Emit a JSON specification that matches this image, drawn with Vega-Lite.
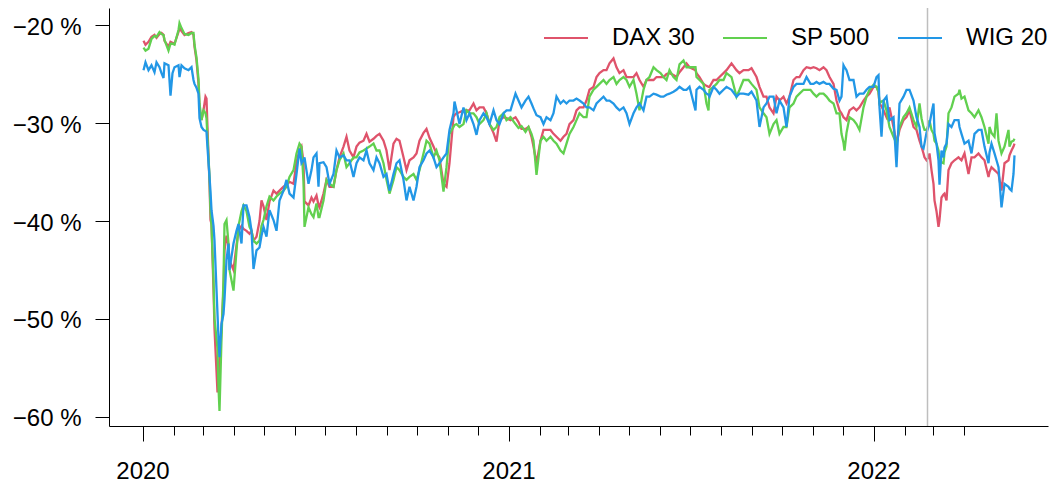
{
"$schema": "https://vega.github.io/schema/vega-lite/v6.json",
"width": 939, "height": 418,
"autosize": {"type": "none"},
"padding": {"left": 109, "top": 8, "right": 3, "bottom": 57},
"background": "white",
"config": {"view": {"stroke": null}, "font": "Liberation Sans"},
"resolve": {"axis": {"x": "independent"}},
"layer": [
{"data": {"values": [
{"d":"2020-01-02","DAX 30":-21.6,"SP 500":-22.3,"WIG 20":-24.6},
{"d":"2020-01-04","DAX 30":-22.0,"SP 500":-22.6,"WIG 20":-23.8},
{"d":"2020-01-07","DAX 30":-21.7,"SP 500":-22.4,"WIG 20":-24.6},
{"d":"2020-01-10","DAX 30":-21.2,"SP 500":-21.4,"WIG 20":-24.1},
{"d":"2020-01-13","DAX 30":-21.0,"SP 500":-21.1,"WIG 20":-24.8},
{"d":"2020-01-15","DAX 30":-21.3,"SP 500":-21.2,"WIG 20":-23.8},
{"d":"2020-01-18","DAX 30":-20.9,"SP 500":-20.7,"WIG 20":-24.3},
{"d":"2020-01-20","DAX 30":-20.8,"SP 500":-20.9,"WIG 20":-24.9},
{"d":"2020-01-22","DAX 30":-21.0,"SP 500":-21.0,"WIG 20":-25.4},
{"d":"2020-01-23","DAX 30":-21.6,"SP 500":-21.5,"WIG 20":-23.9},
{"d":"2020-01-27","DAX 30":-22.2,"SP 500":-22.6,"WIG 20":-24.1},
{"d":"2020-01-29","DAX 30":-21.7,"SP 500":-21.9,"WIG 20":-27.2},
{"d":"2020-01-31","DAX 30":-21.8,"SP 500":-21.9,"WIG 20":-24.9},
{"d":"2020-02-02","DAX 30":-21.9,"SP 500":-22.0,"WIG 20":-24.3},
{"d":"2020-02-06","DAX 30":-20.7,"SP 500":-20.5,"WIG 20":-24.1},
{"d":"2020-02-07","DAX 30":-20.3,"SP 500":-19.8,"WIG 20":-25.3},
{"d":"2020-02-09","DAX 30":-20.6,"SP 500":-20.3,"WIG 20":-24.1},
{"d":"2020-02-12","DAX 30":-21.0,"SP 500":-20.9,"WIG 20":-24.4},
{"d":"2020-02-16","DAX 30":-20.8,"SP 500":-21.0,"WIG 20":-24.6},
{"d":"2020-02-19","DAX 30":-20.7,"SP 500":-20.8,"WIG 20":-24.3},
{"d":"2020-02-21","DAX 30":-21.0,"SP 500":-20.8,"WIG 20":-25.6},
{"d":"2020-02-22","DAX 30":-22.2,"SP 500":-22.0,"WIG 20":-26.0},
{"d":"2020-02-24","DAX 30":-23.6,"SP 500":-23.3,"WIG 20":-26.4},
{"d":"2020-02-26","DAX 30":-26.0,"SP 500":-25.5,"WIG 20":-27.0},
{"d":"2020-02-27","DAX 30":-28.4,"SP 500":-28.0,"WIG 20":-29.5},
{"d":"2020-02-29","DAX 30":-29.7,"SP 500":-29.7,"WIG 20":-30.4},
{"d":"2020-03-02","DAX 30":-28.7,"SP 500":-28.7,"WIG 20":-30.7},
{"d":"2020-03-04","DAX 30":-27.3,"SP 500":-29.0,"WIG 20":-30.8},
{"d":"2020-03-05","DAX 30":-27.5,"SP 500":-29.5,"WIG 20":-30.9},
{"d":"2020-03-06","DAX 30":-30.5,"SP 500":-31.5,"WIG 20":-32.5},
{"d":"2020-03-08","DAX 30":-36.2,"SP 500":-35.5,"WIG 20":-35.5},
{"d":"2020-03-09","DAX 30":-39.9,"SP 500":-39.0,"WIG 20":-37.0},
{"d":"2020-03-10","DAX 30":-40.3,"SP 500":-40.5,"WIG 20":-38.9},
{"d":"2020-03-12","DAX 30":-47.0,"SP 500":-46.0,"WIG 20":-40.5},
{"d":"2020-03-13","DAX 30":-51.0,"SP 500":-50.0,"WIG 20":-42.0},
{"d":"2020-03-16","DAX 30":-57.5,"SP 500":-53.0,"WIG 20":-49.5},
{"d":"2020-03-17","DAX 30":-56.0,"SP 500":-57.0,"WIG 20":-52.0},
{"d":"2020-03-18","DAX 30":-55.0,"SP 500":-59.4,"WIG 20":-53.9},
{"d":"2020-03-20","DAX 30":-51.0,"SP 500":-52.0,"WIG 20":-50.5},
{"d":"2020-03-22","DAX 30":-47.0,"SP 500":-46.0,"WIG 20":-49.5},
{"d":"2020-03-23","DAX 30":-43.0,"SP 500":-40.3,"WIG 20":-48.0},
{"d":"2020-03-25","DAX 30":-41.5,"SP 500":-39.9,"WIG 20":-44.0},
{"d":"2020-03-27","DAX 30":-42.5,"SP 500":-42.3,"WIG 20":-42.3},
{"d":"2020-03-28","DAX 30":-44.0,"SP 500":-45.0,"WIG 20":-45.0},
{"d":"2020-04-01","DAX 30":-45.0,"SP 500":-47.1,"WIG 20":-42.3},
{"d":"2020-04-04","DAX 30":-42.5,"SP 500":-43.0,"WIG 20":-41.0},
{"d":"2020-04-06","DAX 30":-41.0,"SP 500":-40.5,"WIG 20":-40.3},
{"d":"2020-04-09","DAX 30":-40.5,"SP 500":-39.0,"WIG 20":-42.3},
{"d":"2020-04-11","DAX 30":-40.8,"SP 500":-38.4,"WIG 20":-38.4},
{"d":"2020-04-14","DAX 30":-41.0,"SP 500":-39.0,"WIG 20":-38.4},
{"d":"2020-04-17","DAX 30":-41.3,"SP 500":-40.6,"WIG 20":-39.6},
{"d":"2020-04-19","DAX 30":-41.0,"SP 500":-41.0,"WIG 20":-41.0},
{"d":"2020-04-21","DAX 30":-42.0,"SP 500":-42.0,"WIG 20":-44.9},
{"d":"2020-04-24","DAX 30":-41.6,"SP 500":-42.3,"WIG 20":-43.0},
{"d":"2020-04-27","DAX 30":-40.0,"SP 500":-42.0,"WIG 20":-42.7},
{"d":"2020-04-29","DAX 30":-37.9,"SP 500":-40.5,"WIG 20":-41.5},
{"d":"2020-05-01","DAX 30":-38.5,"SP 500":-39.9,"WIG 20":-40.6},
{"d":"2020-05-04","DAX 30":-39.9,"SP 500":-38.5,"WIG 20":-41.6},
{"d":"2020-05-07","DAX 30":-38.0,"SP 500":-37.5,"WIG 20":-38.9},
{"d":"2020-05-11","DAX 30":-36.9,"SP 500":-37.9,"WIG 20":-39.9},
{"d":"2020-05-14","DAX 30":-37.2,"SP 500":-37.5,"WIG 20":-41.0},
{"d":"2020-05-17","DAX 30":-36.9,"SP 500":-37.2,"WIG 20":-37.9},
{"d":"2020-05-21","DAX 30":-36.5,"SP 500":-36.9,"WIG 20":-36.9},
{"d":"2020-05-24","DAX 30":-36.3,"SP 500":-36.5,"WIG 20":-35.8},
{"d":"2020-05-27","DAX 30":-36.0,"SP 500":-35.5,"WIG 20":-37.2},
{"d":"2020-05-31","DAX 30":-36.2,"SP 500":-34.8,"WIG 20":-37.6},
{"d":"2020-06-03","DAX 30":-34.0,"SP 500":-33.1,"WIG 20":-35.2},
{"d":"2020-06-06","DAX 30":-32.8,"SP 500":-32.1,"WIG 20":-32.6},
{"d":"2020-06-08","DAX 30":-32.4,"SP 500":-32.4,"WIG 20":-34.1},
{"d":"2020-06-10","DAX 30":-34.0,"SP 500":-36.0,"WIG 20":-33.8},
{"d":"2020-06-11","DAX 30":-38.0,"SP 500":-40.6,"WIG 20":-33.5},
{"d":"2020-06-15","DAX 30":-38.4,"SP 500":-38.6,"WIG 20":-36.2},
{"d":"2020-06-18","DAX 30":-37.6,"SP 500":-39.3,"WIG 20":-34.8},
{"d":"2020-06-20","DAX 30":-38.0,"SP 500":-39.6,"WIG 20":-33.5},
{"d":"2020-06-23","DAX 30":-37.4,"SP 500":-38.2,"WIG 20":-33.1},
{"d":"2020-06-25","DAX 30":-38.4,"SP 500":-39.6,"WIG 20":-36.5},
{"d":"2020-06-26","DAX 30":-38.6,"SP 500":-39.6,"WIG 20":-34.1},
{"d":"2020-06-30","DAX 30":-37.2,"SP 500":-37.9,"WIG 20":-34.0},
{"d":"2020-07-03","DAX 30":-35.8,"SP 500":-35.8,"WIG 20":-34.5},
{"d":"2020-07-06","DAX 30":-36.5,"SP 500":-36.2,"WIG 20":-36.2},
{"d":"2020-07-10","DAX 30":-36.5,"SP 500":-36.5,"WIG 20":-35.2},
{"d":"2020-07-13","DAX 30":-34.8,"SP 500":-34.8,"WIG 20":-32.8},
{"d":"2020-07-16","DAX 30":-33.5,"SP 500":-33.8,"WIG 20":-33.5},
{"d":"2020-07-20","DAX 30":-32.4,"SP 500":-33.1,"WIG 20":-33.3},
{"d":"2020-07-23","DAX 30":-31.4,"SP 500":-34.5,"WIG 20":-33.8},
{"d":"2020-07-26","DAX 30":-32.8,"SP 500":-34.1,"WIG 20":-33.8},
{"d":"2020-07-30","DAX 30":-33.5,"SP 500":-33.5,"WIG 20":-35.5},
{"d":"2020-08-02","DAX 30":-32.4,"SP 500":-33.5,"WIG 20":-34.1},
{"d":"2020-08-05","DAX 30":-32.0,"SP 500":-33.0,"WIG 20":-33.5},
{"d":"2020-08-09","DAX 30":-31.8,"SP 500":-32.8,"WIG 20":-33.8},
{"d":"2020-08-12","DAX 30":-31.1,"SP 500":-32.6,"WIG 20":-32.8},
{"d":"2020-08-15","DAX 30":-31.9,"SP 500":-32.4,"WIG 20":-34.1},
{"d":"2020-08-19","DAX 30":-31.6,"SP 500":-32.1,"WIG 20":-34.8},
{"d":"2020-08-22","DAX 30":-31.3,"SP 500":-32.8,"WIG 20":-33.5},
{"d":"2020-08-25","DAX 30":-31.1,"SP 500":-32.8,"WIG 20":-34.1},
{"d":"2020-08-29","DAX 30":-31.8,"SP 500":-34.1,"WIG 20":-35.5},
{"d":"2020-09-01","DAX 30":-32.8,"SP 500":-35.8,"WIG 20":-35.2},
{"d":"2020-09-04","DAX 30":-34.8,"SP 500":-37.2,"WIG 20":-36.9},
{"d":"2020-09-08","DAX 30":-32.1,"SP 500":-35.8,"WIG 20":-35.2},
{"d":"2020-09-11","DAX 30":-31.6,"SP 500":-34.5,"WIG 20":-34.1},
{"d":"2020-09-14","DAX 30":-31.8,"SP 500":-34.8,"WIG 20":-33.8},
{"d":"2020-09-18","DAX 30":-33.5,"SP 500":-35.5,"WIG 20":-35.8},
{"d":"2020-09-21","DAX 30":-34.8,"SP 500":-35.8,"WIG 20":-37.9},
{"d":"2020-09-24","DAX 30":-33.8,"SP 500":-35.5,"WIG 20":-36.5},
{"d":"2020-09-28","DAX 30":-33.5,"SP 500":-35.2,"WIG 20":-37.9},
{"d":"2020-10-01","DAX 30":-33.1,"SP 500":-35.8,"WIG 20":-36.5},
{"d":"2020-10-04","DAX 30":-31.8,"SP 500":-34.8,"WIG 20":-34.5},
{"d":"2020-10-08","DAX 30":-31.0,"SP 500":-33.1,"WIG 20":-33.8},
{"d":"2020-10-11","DAX 30":-30.6,"SP 500":-31.8,"WIG 20":-33.1},
{"d":"2020-10-14","DAX 30":-31.5,"SP 500":-32.1,"WIG 20":-32.8},
{"d":"2020-10-18","DAX 30":-32.4,"SP 500":-33.5,"WIG 20":-33.5},
{"d":"2020-10-21","DAX 30":-33.1,"SP 500":-32.8,"WIG 20":-34.5},
{"d":"2020-10-24","DAX 30":-33.5,"SP 500":-33.8,"WIG 20":-34.1},
{"d":"2020-10-28","DAX 30":-36.2,"SP 500":-37.0,"WIG 20":-33.5},
{"d":"2020-10-31","DAX 30":-36.5,"SP 500":-34.5,"WIG 20":-33.1},
{"d":"2020-11-03","DAX 30":-34.1,"SP 500":-31.1,"WIG 20":-30.7},
{"d":"2020-11-07","DAX 30":-29.4,"SP 500":-30.4,"WIG 20":-29.0},
{"d":"2020-11-08","DAX 30":-29.2,"SP 500":-30.2,"WIG 20":-27.8},
{"d":"2020-11-10","DAX 30":-29.0,"SP 500":-30.1,"WIG 20":-28.7},
{"d":"2020-11-13","DAX 30":-28.9,"SP 500":-30.4,"WIG 20":-30.1},
{"d":"2020-11-17","DAX 30":-28.7,"SP 500":-30.1,"WIG 20":-28.4},
{"d":"2020-11-20","DAX 30":-28.7,"SP 500":-28.7,"WIG 20":-29.7},
{"d":"2020-11-23","DAX 30":-28.7,"SP 500":-29.0,"WIG 20":-29.0},
{"d":"2020-11-27","DAX 30":-28.0,"SP 500":-29.0,"WIG 20":-30.1},
{"d":"2020-11-30","DAX 30":-28.7,"SP 500":-29.4,"WIG 20":-31.2},
{"d":"2020-12-03","DAX 30":-28.4,"SP 500":-30.1,"WIG 20":-29.7},
{"d":"2020-12-07","DAX 30":-28.4,"SP 500":-29.7,"WIG 20":-29.0},
{"d":"2020-12-10","DAX 30":-29.0,"SP 500":-29.0,"WIG 20":-29.4},
{"d":"2020-12-13","DAX 30":-30.1,"SP 500":-30.1,"WIG 20":-30.1},
{"d":"2020-12-17","DAX 30":-31.0,"SP 500":-30.7,"WIG 20":-28.7},
{"d":"2020-12-20","DAX 30":-31.9,"SP 500":-30.4,"WIG 20":-29.7},
{"d":"2020-12-23","DAX 30":-29.7,"SP 500":-29.4,"WIG 20":-30.1},
{"d":"2020-12-27","DAX 30":-29.4,"SP 500":-29.0,"WIG 20":-29.0},
{"d":"2020-12-30","DAX 30":-29.5,"SP 500":-29.7,"WIG 20":-28.7},
{"d":"2021-01-03","DAX 30":-29.7,"SP 500":-29.4,"WIG 20":-28.7},
{"d":"2021-01-08","DAX 30":-29.4,"SP 500":-30.1,"WIG 20":-27.0},
{"d":"2021-01-11","DAX 30":-29.9,"SP 500":-30.5,"WIG 20":-27.7},
{"d":"2021-01-14","DAX 30":-30.6,"SP 500":-30.3,"WIG 20":-28.4},
{"d":"2021-01-18","DAX 30":-30.6,"SP 500":-30.9,"WIG 20":-27.7},
{"d":"2021-01-21","DAX 30":-30.4,"SP 500":-30.4,"WIG 20":-27.3},
{"d":"2021-01-24","DAX 30":-31.4,"SP 500":-31.1,"WIG 20":-28.0},
{"d":"2021-01-26","DAX 30":-32.4,"SP 500":-31.8,"WIG 20":-28.5},
{"d":"2021-01-29","DAX 30":-34.1,"SP 500":-35.3,"WIG 20":-29.2},
{"d":"2021-02-02","DAX 30":-31.8,"SP 500":-31.8,"WIG 20":-29.4},
{"d":"2021-02-05","DAX 30":-30.7,"SP 500":-31.4,"WIG 20":-30.1},
{"d":"2021-02-08","DAX 30":-30.7,"SP 500":-31.8,"WIG 20":-29.4},
{"d":"2021-02-12","DAX 30":-30.7,"SP 500":-31.4,"WIG 20":-29.7},
{"d":"2021-02-15","DAX 30":-31.1,"SP 500":-31.8,"WIG 20":-29.0},
{"d":"2021-02-18","DAX 30":-31.4,"SP 500":-32.1,"WIG 20":-27.3},
{"d":"2021-02-22","DAX 30":-31.8,"SP 500":-32.8,"WIG 20":-28.0},
{"d":"2021-02-25","DAX 30":-31.4,"SP 500":-33.1,"WIG 20":-27.7},
{"d":"2021-02-28","DAX 30":-31.1,"SP 500":-32.1,"WIG 20":-28.0},
{"d":"2021-03-03","DAX 30":-30.1,"SP 500":-31.1,"WIG 20":-27.7},
{"d":"2021-03-07","DAX 30":-29.7,"SP 500":-30.4,"WIG 20":-27.7},
{"d":"2021-03-10","DAX 30":-28.7,"SP 500":-29.7,"WIG 20":-27.5},
{"d":"2021-03-13","DAX 30":-28.4,"SP 500":-29.0,"WIG 20":-27.7},
{"d":"2021-03-17","DAX 30":-28.4,"SP 500":-29.4,"WIG 20":-28.0},
{"d":"2021-03-20","DAX 30":-27.7,"SP 500":-29.4,"WIG 20":-28.4},
{"d":"2021-03-23","DAX 30":-26.6,"SP 500":-27.3,"WIG 20":-28.4},
{"d":"2021-03-27","DAX 30":-26.3,"SP 500":-26.6,"WIG 20":-28.7},
{"d":"2021-03-30","DAX 30":-25.3,"SP 500":-26.3,"WIG 20":-28.0},
{"d":"2021-04-02","DAX 30":-24.9,"SP 500":-26.0,"WIG 20":-27.7},
{"d":"2021-04-06","DAX 30":-24.6,"SP 500":-25.6,"WIG 20":-27.3},
{"d":"2021-04-09","DAX 30":-24.6,"SP 500":-26.0,"WIG 20":-27.7},
{"d":"2021-04-12","DAX 30":-23.9,"SP 500":-25.6,"WIG 20":-27.7},
{"d":"2021-04-16","DAX 30":-23.4,"SP 500":-25.3,"WIG 20":-28.0},
{"d":"2021-04-19","DAX 30":-24.3,"SP 500":-26.0,"WIG 20":-28.4},
{"d":"2021-04-22","DAX 30":-24.9,"SP 500":-25.6,"WIG 20":-28.7},
{"d":"2021-04-26","DAX 30":-24.6,"SP 500":-25.3,"WIG 20":-28.4},
{"d":"2021-04-29","DAX 30":-25.3,"SP 500":-25.6,"WIG 20":-29.0},
{"d":"2021-05-02","DAX 30":-25.3,"SP 500":-26.3,"WIG 20":-30.1},
{"d":"2021-05-06","DAX 30":-25.3,"SP 500":-25.6,"WIG 20":-29.0},
{"d":"2021-05-09","DAX 30":-24.9,"SP 500":-27.0,"WIG 20":-28.4},
{"d":"2021-05-12","DAX 30":-25.6,"SP 500":-28.7,"WIG 20":-28.0},
{"d":"2021-05-16","DAX 30":-26.3,"SP 500":-26.6,"WIG 20":-28.7},
{"d":"2021-05-19","DAX 30":-25.6,"SP 500":-25.6,"WIG 20":-27.3},
{"d":"2021-05-22","DAX 30":-25.6,"SP 500":-25.3,"WIG 20":-27.3},
{"d":"2021-05-26","DAX 30":-25.6,"SP 500":-24.3,"WIG 20":-27.0},
{"d":"2021-05-29","DAX 30":-25.3,"SP 500":-24.6,"WIG 20":-27.1},
{"d":"2021-06-02","DAX 30":-25.3,"SP 500":-24.9,"WIG 20":-27.3},
{"d":"2021-06-05","DAX 30":-25.3,"SP 500":-25.3,"WIG 20":-27.3},
{"d":"2021-06-08","DAX 30":-25.0,"SP 500":-25.6,"WIG 20":-27.1},
{"d":"2021-06-11","DAX 30":-24.9,"SP 500":-24.6,"WIG 20":-27.0},
{"d":"2021-06-15","DAX 30":-25.1,"SP 500":-25.3,"WIG 20":-26.8},
{"d":"2021-06-18","DAX 30":-25.3,"SP 500":-25.6,"WIG 20":-26.6},
{"d":"2021-06-21","DAX 30":-24.8,"SP 500":-24.0,"WIG 20":-26.3},
{"d":"2021-06-25","DAX 30":-24.3,"SP 500":-23.6,"WIG 20":-26.6},
{"d":"2021-06-28","DAX 30":-23.9,"SP 500":-24.3,"WIG 20":-26.6},
{"d":"2021-07-01","DAX 30":-24.3,"SP 500":-24.3,"WIG 20":-26.3},
{"d":"2021-07-07","DAX 30":-24.6,"SP 500":-24.3,"WIG 20":-28.7},
{"d":"2021-07-08","DAX 30":-24.9,"SP 500":-25.3,"WIG 20":-26.6},
{"d":"2021-07-11","DAX 30":-25.3,"SP 500":-25.6,"WIG 20":-26.3},
{"d":"2021-07-15","DAX 30":-26.0,"SP 500":-26.0,"WIG 20":-26.6},
{"d":"2021-07-18","DAX 30":-26.2,"SP 500":-28.0,"WIG 20":-27.0},
{"d":"2021-07-20","DAX 30":-26.3,"SP 500":-28.7,"WIG 20":-27.1},
{"d":"2021-07-21","DAX 30":-26.3,"SP 500":-26.6,"WIG 20":-27.3},
{"d":"2021-07-25","DAX 30":-25.6,"SP 500":-26.3,"WIG 20":-26.3},
{"d":"2021-07-28","DAX 30":-25.6,"SP 500":-26.0,"WIG 20":-26.6},
{"d":"2021-07-31","DAX 30":-25.3,"SP 500":-25.6,"WIG 20":-27.0},
{"d":"2021-08-04","DAX 30":-24.9,"SP 500":-25.6,"WIG 20":-26.6},
{"d":"2021-08-07","DAX 30":-24.6,"SP 500":-24.9,"WIG 20":-26.3},
{"d":"2021-08-12","DAX 30":-23.9,"SP 500":-25.3,"WIG 20":-26.6},
{"d":"2021-08-17","DAX 30":-24.6,"SP 500":-27.3,"WIG 20":-27.3},
{"d":"2021-08-20","DAX 30":-24.9,"SP 500":-26.6,"WIG 20":-27.0},
{"d":"2021-08-24","DAX 30":-24.6,"SP 500":-25.6,"WIG 20":-27.0},
{"d":"2021-08-29","DAX 30":-24.6,"SP 500":-25.6,"WIG 20":-27.1},
{"d":"2021-09-01","DAX 30":-24.4,"SP 500":-26.0,"WIG 20":-26.8},
{"d":"2021-09-06","DAX 30":-25.3,"SP 500":-26.6,"WIG 20":-27.7},
{"d":"2021-09-09","DAX 30":-26.3,"SP 500":-28.4,"WIG 20":-30.4},
{"d":"2021-09-13","DAX 30":-27.3,"SP 500":-29.0,"WIG 20":-28.4},
{"d":"2021-09-16","DAX 30":-27.3,"SP 500":-29.4,"WIG 20":-28.0},
{"d":"2021-09-19","DAX 30":-28.4,"SP 500":-31.1,"WIG 20":-27.3},
{"d":"2021-09-23","DAX 30":-29.0,"SP 500":-30.1,"WIG 20":-27.3},
{"d":"2021-09-26","DAX 30":-27.3,"SP 500":-29.7,"WIG 20":-29.0},
{"d":"2021-09-29","DAX 30":-27.7,"SP 500":-31.1,"WIG 20":-27.7},
{"d":"2021-10-03","DAX 30":-27.3,"SP 500":-30.4,"WIG 20":-28.4},
{"d":"2021-10-06","DAX 30":-28.0,"SP 500":-30.4,"WIG 20":-30.4},
{"d":"2021-10-09","DAX 30":-27.3,"SP 500":-28.4,"WIG 20":-27.3},
{"d":"2021-10-13","DAX 30":-25.6,"SP 500":-28.0,"WIG 20":-26.3},
{"d":"2021-10-16","DAX 30":-25.3,"SP 500":-27.3,"WIG 20":-26.0},
{"d":"2021-10-19","DAX 30":-25.3,"SP 500":-27.0,"WIG 20":-26.0},
{"d":"2021-10-23","DAX 30":-24.6,"SP 500":-26.6,"WIG 20":-26.0},
{"d":"2021-10-26","DAX 30":-24.3,"SP 500":-26.6,"WIG 20":-25.3},
{"d":"2021-10-30","DAX 30":-24.4,"SP 500":-26.6,"WIG 20":-26.0},
{"d":"2021-11-02","DAX 30":-24.3,"SP 500":-27.0,"WIG 20":-26.0},
{"d":"2021-11-05","DAX 30":-24.4,"SP 500":-27.3,"WIG 20":-25.8},
{"d":"2021-11-08","DAX 30":-24.6,"SP 500":-27.0,"WIG 20":-26.0},
{"d":"2021-11-12","DAX 30":-24.3,"SP 500":-27.0,"WIG 20":-25.8},
{"d":"2021-11-15","DAX 30":-24.6,"SP 500":-27.3,"WIG 20":-26.0},
{"d":"2021-11-18","DAX 30":-25.3,"SP 500":-27.7,"WIG 20":-26.0},
{"d":"2021-11-22","DAX 30":-26.0,"SP 500":-28.0,"WIG 20":-26.5},
{"d":"2021-11-25","DAX 30":-27.7,"SP 500":-29.0,"WIG 20":-26.6},
{"d":"2021-11-28","DAX 30":-28.7,"SP 500":-29.0,"WIG 20":-27.7},
{"d":"2021-11-30","DAX 30":-29.0,"SP 500":-31.1,"WIG 20":-27.3},
{"d":"2021-12-02","DAX 30":-29.4,"SP 500":-32.0,"WIG 20":-24.1},
{"d":"2021-12-03","DAX 30":-29.5,"SP 500":-32.8,"WIG 20":-24.3},
{"d":"2021-12-05","DAX 30":-29.7,"SP 500":-31.0,"WIG 20":-24.6},
{"d":"2021-12-08","DAX 30":-28.7,"SP 500":-29.4,"WIG 20":-25.6},
{"d":"2021-12-12","DAX 30":-28.4,"SP 500":-29.7,"WIG 20":-25.6},
{"d":"2021-12-15","DAX 30":-28.7,"SP 500":-30.1,"WIG 20":-27.3},
{"d":"2021-12-18","DAX 30":-28.4,"SP 500":-30.7,"WIG 20":-27.0},
{"d":"2021-12-22","DAX 30":-27.7,"SP 500":-28.4,"WIG 20":-27.0},
{"d":"2021-12-25","DAX 30":-27.3,"SP 500":-27.3,"WIG 20":-26.6},
{"d":"2021-12-28","DAX 30":-27.0,"SP 500":-26.6,"WIG 20":-26.3},
{"d":"2022-01-01","DAX 30":-26.3,"SP 500":-26.1,"WIG 20":-26.3},
{"d":"2022-01-04","DAX 30":-26.3,"SP 500":-26.3,"WIG 20":-25.3},
{"d":"2022-01-06","DAX 30":-26.8,"SP 500":-26.8,"WIG 20":-25.1},
{"d":"2022-01-07","DAX 30":-28.0,"SP 500":-28.0,"WIG 20":-28.4},
{"d":"2022-01-09","DAX 30":-28.3,"SP 500":-27.8,"WIG 20":-31.4},
{"d":"2022-01-11","DAX 30":-28.7,"SP 500":-27.7,"WIG 20":-27.7},
{"d":"2022-01-14","DAX 30":-29.4,"SP 500":-28.7,"WIG 20":-27.3},
{"d":"2022-01-17","DAX 30":-28.4,"SP 500":-30.4,"WIG 20":-29.7},
{"d":"2022-01-21","DAX 30":-30.4,"SP 500":-31.4,"WIG 20":-29.4},
{"d":"2022-01-24","DAX 30":-32.1,"SP 500":-32.1,"WIG 20":-34.5},
{"d":"2022-01-27","DAX 30":-30.7,"SP 500":-30.4,"WIG 20":-28.0},
{"d":"2022-01-31","DAX 30":-29.7,"SP 500":-29.4,"WIG 20":-27.3},
{"d":"2022-02-03","DAX 30":-29.4,"SP 500":-29.0,"WIG 20":-26.6},
{"d":"2022-02-06","DAX 30":-28.7,"SP 500":-28.4,"WIG 20":-26.6},
{"d":"2022-02-10","DAX 30":-30.4,"SP 500":-29.7,"WIG 20":-27.7},
{"d":"2022-02-13","DAX 30":-30.7,"SP 500":-30.4,"WIG 20":-29.4},
{"d":"2022-02-16","DAX 30":-31.8,"SP 500":-28.0,"WIG 20":-30.4},
{"d":"2022-02-18","DAX 30":-32.4,"SP 500":-29.5,"WIG 20":-32.4},
{"d":"2022-02-20","DAX 30":-33.1,"SP 500":-30.4,"WIG 20":-32.6},
{"d":"2022-02-21","DAX 30":-33.5,"SP 500":-30.7,"WIG 20":-32.1},
{"d":"2022-02-23","DAX 30":-33.8,"SP 500":-30.7,"WIG 20":-31.0},
{"d":"2022-02-25","DAX 30":-33.5,"SP 500":-30.2,"WIG 20":-30.4},
{"d":"2022-02-26","DAX 30":-33.1,"SP 500":-29.7,"WIG 20":-30.1},
{"d":"2022-02-28","DAX 30":-34.8,"SP 500":-30.7,"WIG 20":-29.0},
{"d":"2022-03-02","DAX 30":-36.2,"SP 500":-31.1,"WIG 20":-28.0},
{"d":"2022-03-03","DAX 30":-37.9,"SP 500":-31.8,"WIG 20":-31.0},
{"d":"2022-03-05","DAX 30":-39.0,"SP 500":-32.1,"WIG 20":-32.1},
{"d":"2022-03-07","DAX 30":-40.6,"SP 500":-32.8,"WIG 20":-33.8},
{"d":"2022-03-08","DAX 30":-39.9,"SP 500":-33.8,"WIG 20":-36.3},
{"d":"2022-03-10","DAX 30":-37.6,"SP 500":-34.0,"WIG 20":-32.8},
{"d":"2022-03-12","DAX 30":-37.3,"SP 500":-34.1,"WIG 20":-33.5},
{"d":"2022-03-13","DAX 30":-37.2,"SP 500":-33.0,"WIG 20":-32.5},
{"d":"2022-03-15","DAX 30":-37.9,"SP 500":-32.4,"WIG 20":-32.1},
{"d":"2022-03-17","DAX 30":-34.8,"SP 500":-29.0,"WIG 20":-30.1},
{"d":"2022-03-20","DAX 30":-34.1,"SP 500":-28.4,"WIG 20":-30.4},
{"d":"2022-03-23","DAX 30":-33.8,"SP 500":-27.3,"WIG 20":-29.7},
{"d":"2022-03-27","DAX 30":-33.5,"SP 500":-27.0,"WIG 20":-29.7},
{"d":"2022-03-28","DAX 30":-33.6,"SP 500":-26.6,"WIG 20":-30.4},
{"d":"2022-03-30","DAX 30":-33.8,"SP 500":-27.5,"WIG 20":-31.1},
{"d":"2022-04-02","DAX 30":-33.1,"SP 500":-27.3,"WIG 20":-32.1},
{"d":"2022-04-06","DAX 30":-35.2,"SP 500":-28.7,"WIG 20":-31.8},
{"d":"2022-04-09","DAX 30":-33.5,"SP 500":-29.0,"WIG 20":-33.1},
{"d":"2022-04-12","DAX 30":-33.5,"SP 500":-29.4,"WIG 20":-31.1},
{"d":"2022-04-16","DAX 30":-33.1,"SP 500":-28.7,"WIG 20":-30.7},
{"d":"2022-04-19","DAX 30":-33.5,"SP 500":-29.4,"WIG 20":-30.7},
{"d":"2022-04-22","DAX 30":-33.8,"SP 500":-30.4,"WIG 20":-32.4},
{"d":"2022-04-26","DAX 30":-35.5,"SP 500":-32.1,"WIG 20":-34.1},
{"d":"2022-04-27","DAX 30":-35.0,"SP 500":-30.4,"WIG 20":-33.0},
{"d":"2022-04-29","DAX 30":-34.5,"SP 500":-31.0,"WIG 20":-32.1},
{"d":"2022-05-02","DAX 30":-34.8,"SP 500":-31.4,"WIG 20":-33.1},
{"d":"2022-05-04","DAX 30":-35.0,"SP 500":-29.0,"WIG 20":-33.8},
{"d":"2022-05-06","DAX 30":-35.2,"SP 500":-31.8,"WIG 20":-34.5},
{"d":"2022-05-09","DAX 30":-36.9,"SP 500":-33.1,"WIG 20":-38.6},
{"d":"2022-05-12","DAX 30":-34.1,"SP 500":-32.4,"WIG 20":-36.2},
{"d":"2022-05-16","DAX 30":-33.8,"SP 500":-30.7,"WIG 20":-36.5},
{"d":"2022-05-17","DAX 30":-33.3,"SP 500":-32.4,"WIG 20":-36.7},
{"d":"2022-05-19","DAX 30":-32.8,"SP 500":-31.9,"WIG 20":-36.9},
{"d":"2022-05-21","DAX 30":-32.4,"SP 500":-31.8,"WIG 20":-35.2},
{"d":"2022-05-22","DAX 30":-32.1,"SP 500":-31.6,"WIG 20":-33.3}
]},
"transform": [{"fold": ["DAX 30", "SP 500", "WIG 20"], "as": ["series", "v"]}],
"mark": {"type": "line", "strokeWidth": 2.3},
"encoding": {
"x": {"field": "d", "type": "temporal",
 "scale": {"type": "utc", "domain": [1574942400000, 1656072000000]},
 "axis": {"orient": "bottom", "title": null, "grid": false, "domainColor": "black", "tickColor": "black", "domainWidth": 1, "tickWidth": 1,
  "values": [1577836800000, 1580515200000, 1583020800000, 1585699200000, 1588291200000, 1590969600000, 1593561600000, 1596240000000, 1598918400000, 1601510400000, 1604188800000, 1606780800000, 1609459200000, 1612137600000, 1614556800000, 1617235200000, 1619827200000, 1622505600000, 1625097600000, 1627776000000, 1630454400000, 1633046400000, 1635724800000, 1638316800000, 1640995200000, 1643673600000, 1646092800000, 1648771200000],
  "tickSize": 9, "labels": false}},
"y": {"field": "v", "type": "quantitative",
 "scale": {"domain": [-60.93, -18.25], "nice": false, "zero": false},
 "axis": {"title": null, "grid": false, "domainColor": "black", "tickColor": "black",
  "values": [-60, -50, -40, -30, -20], "tickSize": 14,
  "labelExpr": "'\u2212' + abs(datum.value) + ' %'",
  "labelFontSize": 24, "labelFont": "Liberation Sans", "labelColor": "black", "labelPadding": 14, "labelBaseline": "middle", "labelOffset": 2}},
"color": {"field": "series", "type": "nominal",
 "scale": {"domain": ["DAX 30", "SP 500", "WIG 20"], "range": ["#DF536B", "#61D04F", "#2297E6"]},
 "legend": {"title": null, "orient": "none", "legendX": 434, "legendY": 7, "direction": "horizontal", "columns": 3,
  "symbolType": "stroke", "symbolSize": 1936, "symbolStrokeWidth": 2, "symbolOpacity": 1,
  "labelFontSize": 24, "labelFont": "Liberation Sans", "labelColor": "black", "labelOffset": 23,
  "columnPadding": 24, "padding": 0}}
}},
{"data": {"values": [{"d": "2022-02-24"}]},
 "mark": {"type": "rule", "color": "#BEBEBE", "strokeWidth": 1.5},
 "encoding": {"x": {"field": "d", "type": "temporal", "scale": {"type": "utc"},
  "axis": {"orient": "bottom", "title": null, "grid": false, "domain": false, "tickColor": "black", "tickWidth": 1,
   "values": [1577836800000, 1609459200000, 1640995200000], "tickSize": 15,
   "labelExpr": "'' + utcyear(datum.value)",
   "labelFontSize": 24, "labelFont": "Liberation Sans", "labelColor": "black", "labelPadding": 18,
   "labelOverlap": false, "labelFlush": false, "labelAngle": 0}}}}
]
}
